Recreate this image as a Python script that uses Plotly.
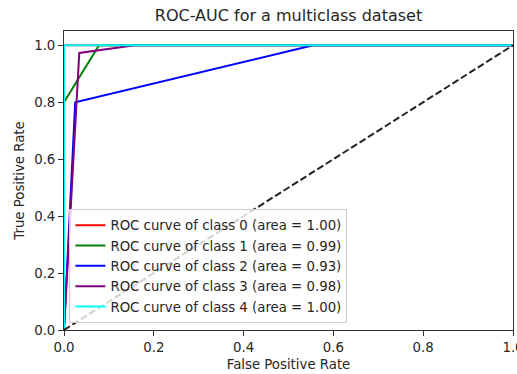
import plotly.graph_objects as go

class_names = ["class 0", "class 1", "class 2", "class 3", "class 4"]
areas = [1.00, 0.99, 0.93, 0.98, 1.00]
colors = ["red", "green", "blue", "purple", "cyan"]

fpr_0 = [0.0, 0.0, 1.0]
tpr_0 = [0.0, 1.0, 1.0]
fpr_1 = [0.0, 0.0, 0.078, 1.0]
tpr_1 = [0.0, 0.80, 1.0, 1.0]
fpr_2 = [0.0, 0.025, 0.555, 1.0]
tpr_2 = [0.0, 0.80, 1.0, 1.0]
fpr_3 = [0.0, 0.034, 0.158, 1.0]
tpr_3 = [0.0, 0.973, 1.0, 1.0]
fpr_4 = [0.0, 0.0, 1.0]
tpr_4 = [0.0, 1.0, 1.0]

fprs = [fpr_0, fpr_1, fpr_2, fpr_3, fpr_4]
tprs = [tpr_0, tpr_1, tpr_2, tpr_3, tpr_4]

diag_x = [0.0, 1.0]
diag_y = [0.0, 1.0]

x_ticks = [0.0, 0.2, 0.4, 0.6, 0.8, 1.0]
y_ticks = [0.0, 0.2, 0.4, 0.6, 0.8, 1.0]

FONT = "DejaVu Sans"
TXT = "#262626"
FS = 13.3

fig = go.Figure()
for name, a, c, fx, ty in zip(class_names, areas, colors, fprs, tprs):
    fig.add_trace(go.Scatter(
        x=fx, y=ty, mode="lines",
        line=dict(color=c, width=2),
        name=f"ROC curve of {name} (area = {a:.2f})",
    ))
fig.add_trace(go.Scatter(
    x=diag_x, y=diag_y, mode="lines",
    line=dict(color="#222222", width=2, dash="7px,3px"),
    showlegend=False,
))

axis_common = dict(
    showgrid=False, zeroline=False, showline=True, linecolor="#333333",
    linewidth=1, mirror=True, ticks="outside", ticklen=5, tickwidth=1,
    tickcolor="#333333", tickfont=dict(family=FONT, size=FS, color=TXT),
    automargin=False, ticklabeloverflow="allow",
)

fig.update_layout(
    width=517, height=374,
    margin=dict(l=64, r=4, t=31, b=44),
    paper_bgcolor="white", plot_bgcolor="white",
    font=dict(family=FONT, size=FS, color=TXT),
    title=dict(text="ROC-AUC for a multiclass dataset", x=288.5 / 517,
               xanchor="center", y=1 - 15 / 374, yanchor="middle",
               font=dict(family=FONT, size=16, color=TXT)),
    xaxis=dict(range=[0, 1], tickvals=x_ticks, ticktext=[f"{v:.1f}" for v in x_ticks],
               title=dict(text="False Positive Rate", standoff=5,
                          font=dict(family=FONT, size=FS, color=TXT)),
               **axis_common),
    yaxis=dict(range=[0, 1.05], tickvals=y_ticks, ticktext=[f"{v:.1f}" for v in y_ticks],
               title=dict(text="True Positive Rate", standoff=6,
                          font=dict(family=FONT, size=FS, color=TXT)),
               **axis_common),
    legend=dict(x=0.012, y=0.023, xanchor="left", yanchor="bottom",
                bgcolor="rgba(255,255,255,0.8)", bordercolor="#cccccc", borderwidth=1,
                font=dict(family=FONT, size=FS, color=TXT)),
)

fig.write_html("out.html", config={"displayModeBar": False},
               post_script="document.body.style.margin='0';document.body.style.overflow='hidden';")
